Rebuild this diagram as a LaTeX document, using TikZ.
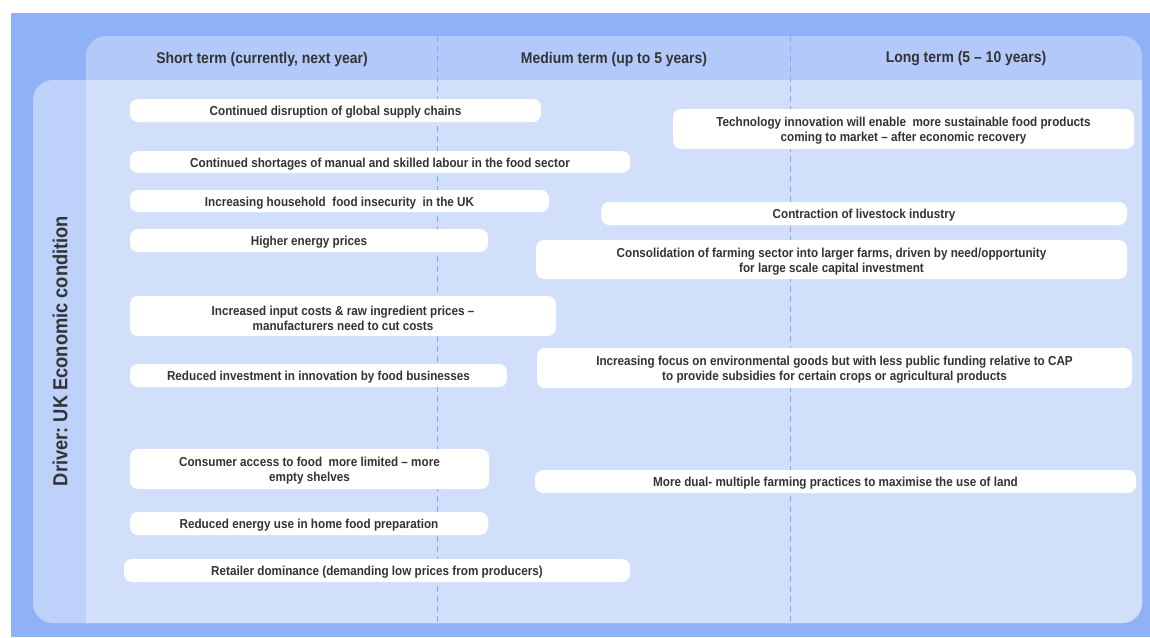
\documentclass[tikz,border=0pt]{standalone}
\usepackage{fontspec}
\setmainfont{Liberation Sans}[FakeStretch=0.9]
\frenchspacing
\begin{document}
\definecolor{outerblue}{HTML}{8FB1F6}
\definecolor{headblue}{HTML}{B3C9F9}
\definecolor{stripblue}{HTML}{BED1FA}
\definecolor{panelblue}{HTML}{D1DFFB}
\definecolor{dashblue}{HTML}{84A8F3}
\definecolor{ink}{HTML}{333333}
\begin{tikzpicture}[x=1pt,y=-1pt,
  itemtext/.style={text=ink, font=\bfseries\fontsize{13}{15}\selectfont, align=center, inner sep=0pt},
  colhead/.style={text=ink, font=\bfseries\fontsize{15.5}{18}\selectfont, inner sep=0pt},
  divider/.style={dashblue, line width=1pt, dash pattern=on 6pt off 4pt}]
\useasboundingbox (0,0) rectangle (1150,637);
% background layers
\fill[outerblue] (11,13) rectangle (1150,637);
\fill[headblue, rounded corners=20pt] (86,36) rectangle (1142,623);
\fill[stripblue, rounded corners=20pt] (33,80) rectangle (1142,623);
\fill[panelblue] (86,80) -- (1142,80) [rounded corners=20pt] -- (1142,623) [sharp corners] -- (86,623) -- cycle;
% column dividers
\coordinate (d1t) at (437.5,36); \coordinate (d1b) at (437.5,623);
\coordinate (d2t) at (790.5,36); \coordinate (d2b) at (790.5,623);
\draw[divider] (d1t) -- (d1b);
\draw[divider] (d2t) -- (d2b);
% column headings
\node[colhead] (h1) at (262,59) {Short term (currently, next year)};
\node[colhead] (h2) at (614,59) {Medium term (up to 5 years)};
\node[colhead] (h3) at (966,59) {Long term (5 – 10 years)};
% driver label
\node[text=ink, font=\bfseries\fontsize{20.3}{22}\selectfont, rotate=90, inner sep=0pt] (drv) at (60,351) {Driver: UK Economic condition};
% item boxes: \itembox{name}{x1}{y1}{x2}{y2}{text}
\newcommand{\itembox}[6]{%
  \fill[white, rounded corners=8pt] (#2,#3) rectangle (#4,#5);
  \node[itemtext] (#1) at ({(#2+#4)/2},{(#3+#5)/2+2}) {#6};}
\itembox{s1}{130}{99}{541}{122}{Continued disruption of global supply chains}
\itembox{s2}{130}{151}{630}{173}{Continued shortages of manual and skilled labour in the food sector}
\itembox{s3}{130}{190}{549}{212}{Increasing household\ \ food insecurity\ \ in the UK}
\itembox{s4}{130}{229}{488}{252}{Higher energy prices}
\itembox{s5}{130}{296}{556}{336}{Increased input costs \& raw ingredient prices –\\manufacturers need to cut costs}
\itembox{s6}{130}{364}{507}{387}{Reduced investment in innovation by food businesses}
\itembox{s7}{130}{449}{489}{489}{Consumer access to food\ \ more limited – more\\empty shelves}
\itembox{s8}{130}{512}{488}{535}{Reduced energy use in home food preparation}
\itembox{s9}{124}{559}{630}{582}{Retailer dominance (demanding low prices from producers)}
\itembox{l1}{673}{109}{1134}{149}{Technology innovation will enable\ \ more sustainable food products\\coming to market – after economic recovery}
\itembox{m1}{601}{202}{1127}{225}{Contraction of livestock industry}
\itembox{m2}{536}{240}{1127}{279}{Consolidation of farming sector into larger farms, driven by need/opportunity\\for large scale capital investment}
\itembox{m3}{537}{348}{1132}{388}{Increasing focus on environmental goods but with less public funding relative to CAP\\to provide subsidies for certain crops or agricultural products}
\itembox{m4}{535}{470}{1136}{493}{More dual- multiple farming practices to maximise the use of land}
\end{tikzpicture}
\end{document}
